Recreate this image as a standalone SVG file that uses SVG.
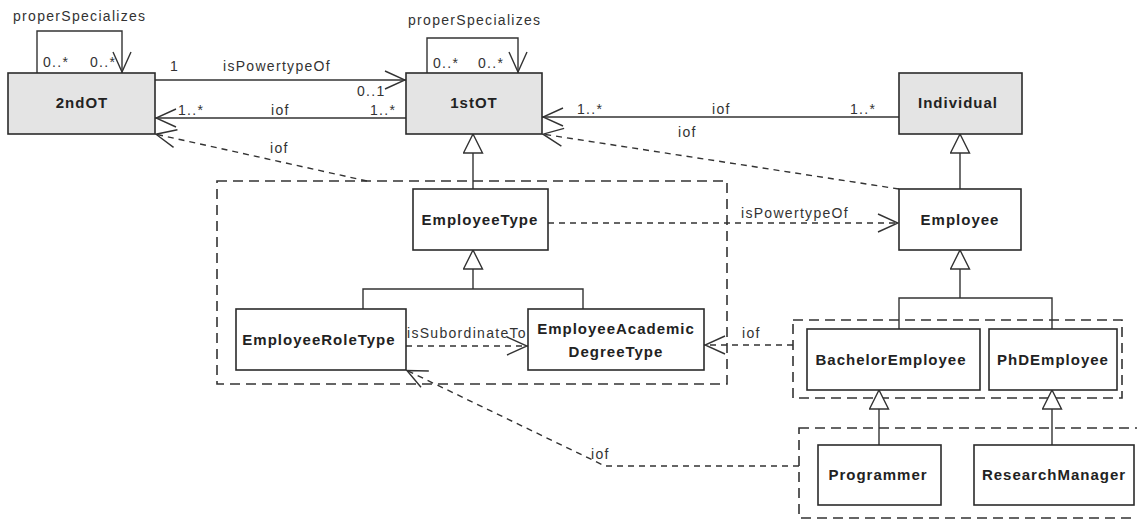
<svg xmlns="http://www.w3.org/2000/svg" width="1137" height="520" viewBox="0 0 1137 520">
<style>
.box{fill:#fff;stroke:#2b2b2b;stroke-width:1.6}
.gray{fill:#e4e4e4}
.pkg{fill:none;stroke:#333;stroke-width:1.6;stroke-dasharray:10 6}
.ln{fill:none;stroke:#333;stroke-width:1.4}
.dash{stroke-dasharray:6 5}
.nl{font-family:"Liberation Sans",Arial,sans-serif;font-weight:bold;font-size:15px;letter-spacing:1px;text-anchor:middle;fill:#222}
.lb{font-family:"Liberation Sans",Arial,sans-serif;font-size:14px;letter-spacing:1.3px;fill:#333}
</style>
<defs>
<marker id="open" viewBox="0 0 22 20" refX="22" refY="10" markerWidth="22" markerHeight="20" markerUnits="userSpaceOnUse" orient="auto">
<path d="M1,1 L21,10 L1,19" fill="none" stroke="#333" stroke-width="1.4" stroke-dasharray="none"/>
</marker>
<marker id="tri" viewBox="0 0 21 21" refX="20" refY="10.5" markerWidth="21" markerHeight="21" markerUnits="userSpaceOnUse" orient="auto">
<path d="M1,1 L20,10.5 L1,20 Z" fill="#fff" stroke="#333" stroke-width="1.4" stroke-dasharray="none"/>
</marker>
</defs>
<rect width="1137" height="520" fill="#fff"/>

<g id="packages">
<rect id="pkg1" class="pkg" x="217" y="181" width="510" height="203"/>
<rect id="pkg2" class="pkg" x="793" y="320" width="329" height="78"/>
<rect id="pkg3" class="pkg" x="799" y="428" width="345" height="90"/>
</g>

<g id="connectors">
<!-- self loops -->
<path class="ln" d="M37,73 V31 H122 V73" marker-end="url(#open)"/>
<path class="ln" d="M427,73 V38 H518 V73" marker-end="url(#open)"/>
<!-- isPowertypeOf 2ndOT -> 1stOT -->
<path class="ln" d="M155,80 H406" marker-end="url(#open)"/>
<!-- iof 1stOT -> 2ndOT -->
<path class="ln" d="M406,118 H155" marker-end="url(#open)"/>
<!-- iof package1 -> 2ndOT -->
<path class="ln dash" d="M367,181 L155,134" marker-end="url(#open)"/>
<!-- iof Individual -> 1stOT -->
<path class="ln" d="M899,117 H542" marker-end="url(#open)"/>
<!-- iof Employee -> 1stOT -->
<path class="ln dash" d="M899,189 L542,134" marker-end="url(#open)"/>
<!-- generalizations -->
<path class="ln" d="M473,189 V134" marker-end="url(#tri)"/>
<path class="ln" d="M960,189 V134" marker-end="url(#tri)"/>
<path class="ln" d="M363,309 V289 H583 V309"/>
<path class="ln" d="M473,289 V250" marker-end="url(#tri)"/>
<path class="ln" d="M899,329 V298 H1052 V329"/>
<path class="ln" d="M960,298 V250" marker-end="url(#tri)"/>
<path class="ln" d="M879,445 V390" marker-end="url(#tri)"/>
<path class="ln" d="M1052,445 V390" marker-end="url(#tri)"/>
<!-- isPowertypeOf EmployeeType -> Employee -->
<path class="ln dash" d="M548,223 H899" marker-end="url(#open)"/>
<!-- isSubordinateTo -->
<path class="ln dash" d="M406,346 H528" marker-end="url(#open)"/>
<!-- iof package2 -> EmployeeAcademicDegreeType -->
<path class="ln dash" d="M793,345 H704" marker-end="url(#open)"/>
<!-- iof package3 -> EmployeeRoleType -->
<path class="ln dash" d="M799,466 H605 L406,370" marker-end="url(#open)"/>
</g>

<g id="labels">
<text class="lb" x="13" y="21">properSpecializes</text>
<text class="lb" x="43" y="67">0..*</text>
<text class="lb" x="90" y="67">0..*</text>
<text class="lb" x="170" y="71">1</text>
<text class="lb" x="223" y="71">isPowertypeOf</text>
<text class="lb" x="357" y="96">0..1</text>
<text class="lb" x="178" y="115">1..*</text>
<text class="lb" x="271" y="115">iof</text>
<text class="lb" x="370" y="115">1..*</text>
<text class="lb" x="270" y="153">iof</text>
<text class="lb" x="408" y="25">properSpecializes</text>
<text class="lb" x="433" y="68">0..*</text>
<text class="lb" x="478" y="68">0..*</text>
<text class="lb" x="577" y="114">1..*</text>
<text class="lb" x="712" y="114">iof</text>
<text class="lb" x="850" y="114">1..*</text>
<text class="lb" x="678" y="137">iof</text>
<text class="lb" x="741" y="218">isPowertypeOf</text>
<text class="lb" x="407" y="338">isSubordinateTo</text>
<text class="lb" x="742" y="338">iof</text>
<text class="lb" x="591" y="459">iof</text>
</g>

<g id="n2ndOT"><rect class="box gray" x="8" y="73" width="147" height="61"/><text class="nl" x="82" y="108">2ndOT</text></g>
<g id="n1stOT"><rect class="box gray" x="406" y="73" width="136" height="61"/><text class="nl" x="474" y="108">1stOT</text></g>
<g id="nIndividual"><rect class="box gray" x="899" y="73" width="123" height="61"/><text class="nl" x="958" y="108">Individual</text></g>
<g id="nEmployeeType"><rect class="box" x="413" y="189" width="135" height="61"/><text class="nl" x="480" y="225">EmployeeType</text></g>
<g id="nEmployee"><rect class="box" x="899" y="189" width="122" height="61"/><text class="nl" x="960" y="225">Employee</text></g>
<g id="nEmployeeRoleType"><rect class="box" x="236" y="309" width="170" height="61"/><text class="nl" x="319" y="345">EmployeeRoleType</text></g>
<g id="nEmployeeAcademicDegreeType"><rect class="box" x="528" y="309" width="176" height="61"/><text class="nl" x="616" y="334">EmployeeAcademic</text><text class="nl" x="616" y="357">DegreeType</text></g>
<g id="nBachelorEmployee"><rect class="box" x="807" y="329" width="173" height="61"/><text class="nl" x="891" y="365">BachelorEmployee</text></g>
<g id="nPhDEmployee"><rect class="box" x="989" y="329" width="128" height="61"/><text class="nl" x="1053" y="365">PhDEmployee</text></g>
<g id="nProgrammer"><rect class="box" x="818" y="445" width="123" height="60"/><text class="nl" x="878" y="480">Programmer</text></g>
<g id="nResearchManager"><rect class="box" x="974" y="445" width="160" height="60"/><text class="nl" x="1054" y="480">ResearchManager</text></g>
</svg>
